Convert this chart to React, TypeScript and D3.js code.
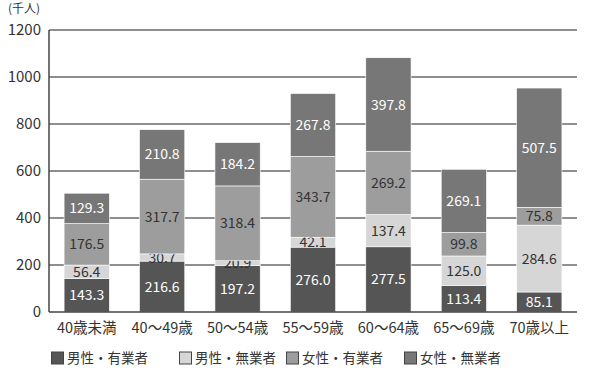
import React, { useRef, useEffect } from "react";
import * as d3 from "d3";

const categories = ["40歳未満", "40～49歳", "50～54歳", "55～59歳", "60～64歳", "65～69歳", "70歳以上"];
const seriesNames = ["男性・有業者", "男性・無業者", "女性・有業者", "女性・無業者"];
const maleEmployed = [143.3, 216.6, 197.2, 276.0, 277.5, 113.4, 85.1];
const maleUnemployed = [56.4, 30.7, 20.9, 42.1, 137.4, 125.0, 284.6];
const femaleEmployed = [176.5, 317.7, 318.4, 343.7, 269.2, 99.8, 75.8];
const femaleUnemployed = [129.3, 210.8, 184.2, 267.8, 397.8, 269.1, 507.5];
const yTicks = [0, 200, 400, 600, 800, 1000, 1200];

const colors = ["#555555", "#d6d6d6", "#9d9d9d", "#777777"];
const textColors = ["#ffffff", "#333333", "#333333", "#ffffff"];
const font = "'Noto Sans CJK JP', 'Noto Sans', sans-serif";

export default function App() {
    const svgRef = useRef<SVGSVGElement>(null);

    useEffect(() => {
        const svg = d3.select(svgRef.current);
        svg.selectAll("*").remove();

        const left = 49, right = 577, top = 30, bottom = 312;

        const rows = categories.map((c, i) => ({
            cat: c,
            s0: maleEmployed[i],
            s1: maleUnemployed[i],
            s2: femaleEmployed[i],
            s3: femaleUnemployed[i],
        }));
        const keys = ["s0", "s1", "s2", "s3"];
        const stacked = d3.stack<any>().keys(keys)(rows);

        const x = d3.scaleBand().domain(categories).range([left, right]).paddingInner(0.4).paddingOuter(0.2);
        const y = d3.scaleLinear().domain([0, 1200]).range([bottom, top]);

        // gridlines
        svg.append("g")
            .selectAll("line")
            .data(yTicks.slice(1))
            .enter()
            .append("line")
            .attr("x1", left)
            .attr("x2", right)
            .attr("y1", d => y(d))
            .attr("y2", d => y(d))
            .attr("stroke", "#6a6a6a")
            .attr("stroke-width", 1.5);

        // y labels
        svg.append("g")
            .selectAll("text")
            .data(yTicks)
            .enter()
            .append("text")
            .attr("x", 41)
            .attr("y", d => y(d))
            .attr("dy", "0.35em")
            .attr("text-anchor", "end")
            .attr("font-family", font)
            .attr("font-size", 15)
            .attr("fill", "#333")
            .text(d => d);

        svg.append("text")
            .attr("x", 8)
            .attr("y", 9)
            .attr("dy", "0.35em")
            .attr("font-family", font)
            .attr("font-size", 12)
            .attr("fill", "#333")
            .text("(千人)");

        // bars
        const layers = svg.append("g")
            .selectAll("g")
            .data(stacked)
            .enter()
            .append("g");

        layers.selectAll("rect")
            .data((d, i) => d.map(p => ({ p, i })))
            .enter()
            .append("rect")
            .attr("x", d => x(d.p.data.cat)!)
            .attr("width", x.bandwidth())
            .attr("y", d => y(d.p[1]))
            .attr("height", d => y(d.p[0]) - y(d.p[1]))
            .attr("fill", d => colors[d.i])
            .attr("stroke", "#ffffff")
            .attr("stroke-width", 0.6);

        layers.selectAll("text")
            .data((d, i) => d.map(p => ({ p, i })))
            .enter()
            .append("text")
            .attr("x", d => x(d.p.data.cat)! + x.bandwidth() / 2)
            .attr("y", d => (y(d.p[0]) + y(d.p[1])) / 2)
            .attr("dy", "0.36em")
            .attr("text-anchor", "middle")
            .attr("font-family", font)
            .attr("font-size", 14)
            .attr("fill", d => textColors[d.i])
            .text(d => (d.p[1] - d.p[0]).toFixed(1));

        // axes lines
        svg.append("line")
            .attr("x1", left).attr("x2", left)
            .attr("y1", top).attr("y2", bottom)
            .attr("stroke", "#444").attr("stroke-width", 1.5);
        svg.append("line")
            .attr("x1", left).attr("x2", right)
            .attr("y1", bottom).attr("y2", bottom)
            .attr("stroke", "#444").attr("stroke-width", 1.5);

        // x labels
        svg.append("g")
            .selectAll("text")
            .data(categories)
            .enter()
            .append("text")
            .attr("x", d => x(d)! + x.bandwidth() / 2)
            .attr("y", 328)
            .attr("dy", "0.35em")
            .attr("text-anchor", "middle")
            .attr("font-family", font)
            .attr("font-size", 14.5)
            .attr("fill", "#333")
            .text(d => d);

        // legend
        const legendX = [51, 179, 286, 404];
        const legend = svg.append("g")
            .selectAll("g")
            .data(seriesNames)
            .enter()
            .append("g")
            .attr("transform", (d, i) => `translate(${legendX[i]},358)`);
        legend.append("rect")
            .attr("x", 0.5)
            .attr("y", -6)
            .attr("width", 12)
            .attr("height", 12)
            .attr("fill", (d, i) => colors[i])
            .attr("stroke", "#444")
            .attr("stroke-width", 1);
        legend.append("text")
            .attr("x", 16)
            .attr("y", 0)
            .attr("dy", "0.35em")
            .attr("font-family", font)
            .attr("font-size", 13.5)
            .attr("fill", "#333")
            .text(d => d);
    }, []);

    return (
        <svg ref={svgRef} width={600} height={384} style={{ position: "absolute", left: 0, top: 0, background: "#fff" }} />
    );
}
